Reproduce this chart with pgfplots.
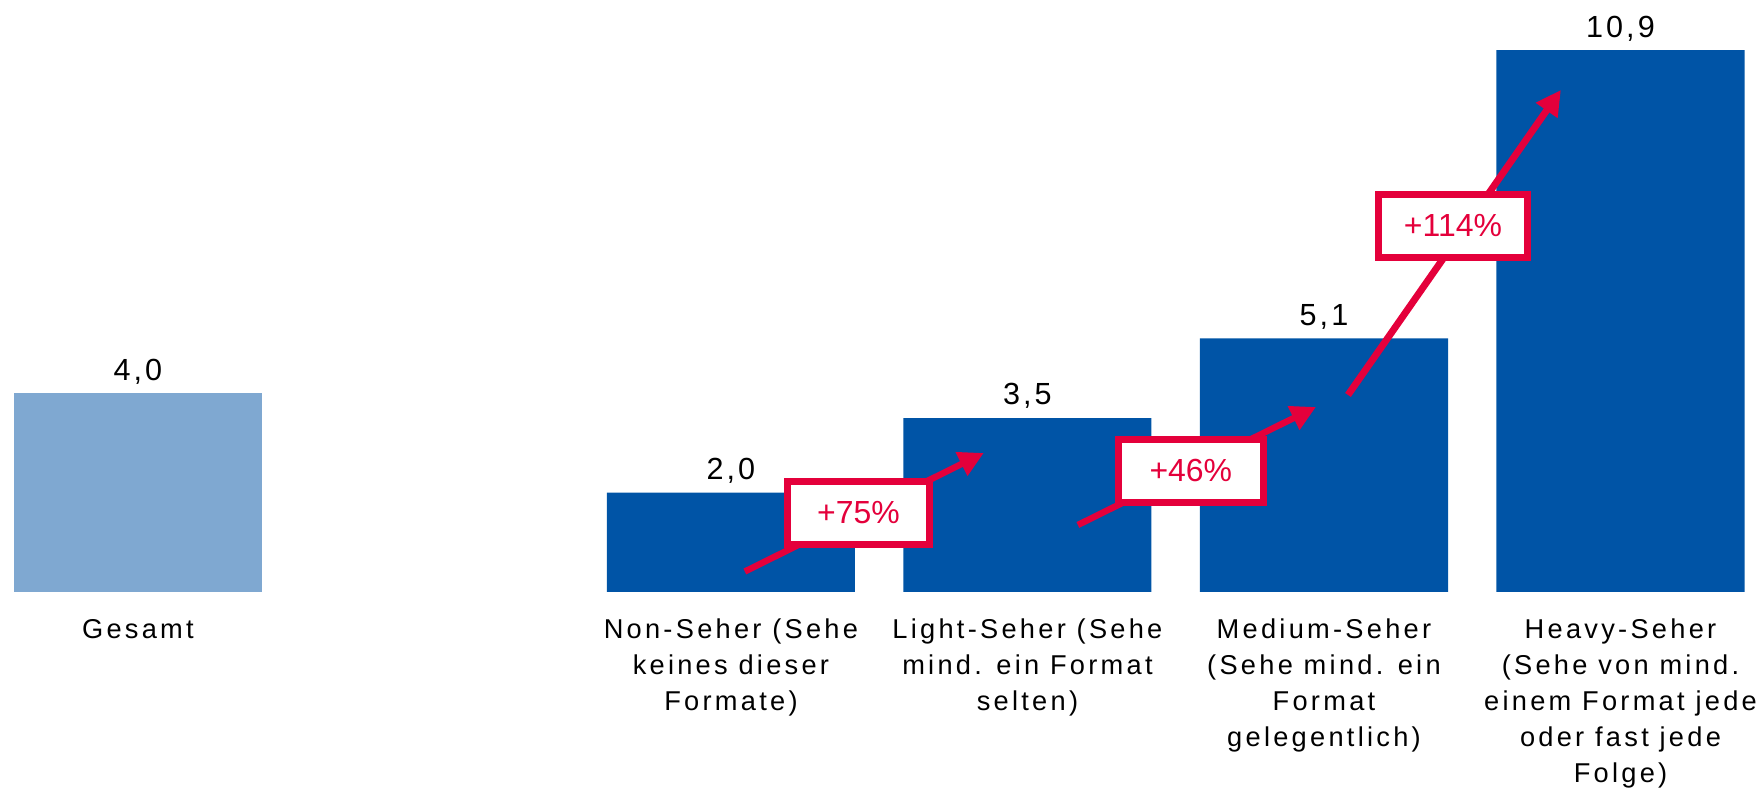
\documentclass[border=0pt]{standalone}
\usepackage{pgfplots}
\pgfplotsset{compat=1.18}
\usepackage{fontspec}
\setmainfont{Liberation Sans}[LetterSpace=10]
\newfontfamily\plainfont{Liberation Sans}
\newfontfamily\labelfont{Liberation Sans}[LetterSpace=12]
\usetikzlibrary{arrows.meta}
\definecolor{lightblue}{HTML}{7FA8D1}
\definecolor{darkblue}{HTML}{0054A6}
\definecolor{accent}{HTML}{E4003B}
\begin{document}
\begin{tikzpicture}
\begin{axis}[
  scale only axis, width=635pt, height=213.1pt,
  xmin=-0.465, xmax=5.484, ymin=0, ymax=11.91,
  ybar, bar width=89.3pt, bar shift=0pt,
  axis line style={draw=none}, tick style={draw=none},
  ytick=\empty,
  xtick={0,2,3,4,5},
  xticklabels={{Gesamt},{Non-Seher (Sehe\\keines dieser\\Formate)},{Light-Seher (Sehe\\mind. ein Format\\selten)},{Medium-Seher\\(Sehe mind. ein\\Format\\gelegentlich)},{Heavy-Seher\\(Sehe von mind.\\einem Format jede\\oder fast jede\\Folge)}},
  xticklabel style={align=center, font=\labelfont\fontsize{9.8}{12.9}\selectfont, anchor=north, yshift=-2pt},
  point meta=explicit symbolic,
  nodes near coords,
  every node near coord/.append style={font=\fontsize{11}{13}\selectfont, anchor=base, yshift=4.7pt, text=black},
  clip=false,
]
\addplot[fill=lightblue, draw=none] table[meta=lab, row sep=\\] {x y lab\\ 0 4.0 4,0\\};
\addplot[fill=darkblue, draw=none] table[meta=lab, row sep=\\] {x y lab\\ 2 2.0 2,0\\ 3 3.5 3,5\\ 4 5.1 5,1\\ 5 10.9 10,9\\};

\draw[accent, line width=2.3pt, -{Triangle[length=9pt,width=9pt]}] (axis cs:2.047,0.412) -- (axis cs:2.853,2.797);
\node[draw=accent, line width=2.5pt, fill=white, minimum width=51pt, minimum height=22.7pt, inner sep=0pt, text=accent, font=\plainfont\fontsize{11.5}{13}\selectfont] at (axis cs:2.43,1.59) {+75\%};

\draw[accent, line width=2.3pt, -{Triangle[length=9pt,width=9pt]}] (axis cs:3.170,1.348) -- (axis cs:3.973,3.722);
\node[draw=accent, line width=2.5pt, fill=white, minimum width=52.2pt, minimum height=22.5pt, inner sep=0pt, text=accent, font=\plainfont\fontsize{11.5}{13}\selectfont] at (axis cs:3.551,2.435) {+46\%};

\draw[accent, line width=2.5pt, -{Triangle[length=9pt,width=9pt]}] (axis cs:4.081,3.964) -- (axis cs:4.799,10.10);
\node[draw=accent, line width=2.5pt, fill=white, minimum width=53.7pt, minimum height=22.7pt, inner sep=0pt, text=accent, font=\plainfont\fontsize{11.5}{13}\selectfont] at (axis cs:4.435,7.364) {+114\%};

\coordinate (bl) at (rel axis cs:0,0);
\coordinate (tr) at (rel axis cs:1,1);
\end{axis}
\pgfresetboundingbox
\path[use as bounding box] ([yshift=-72.72pt]bl) rectangle (tr);
\end{tikzpicture}
\end{document}
